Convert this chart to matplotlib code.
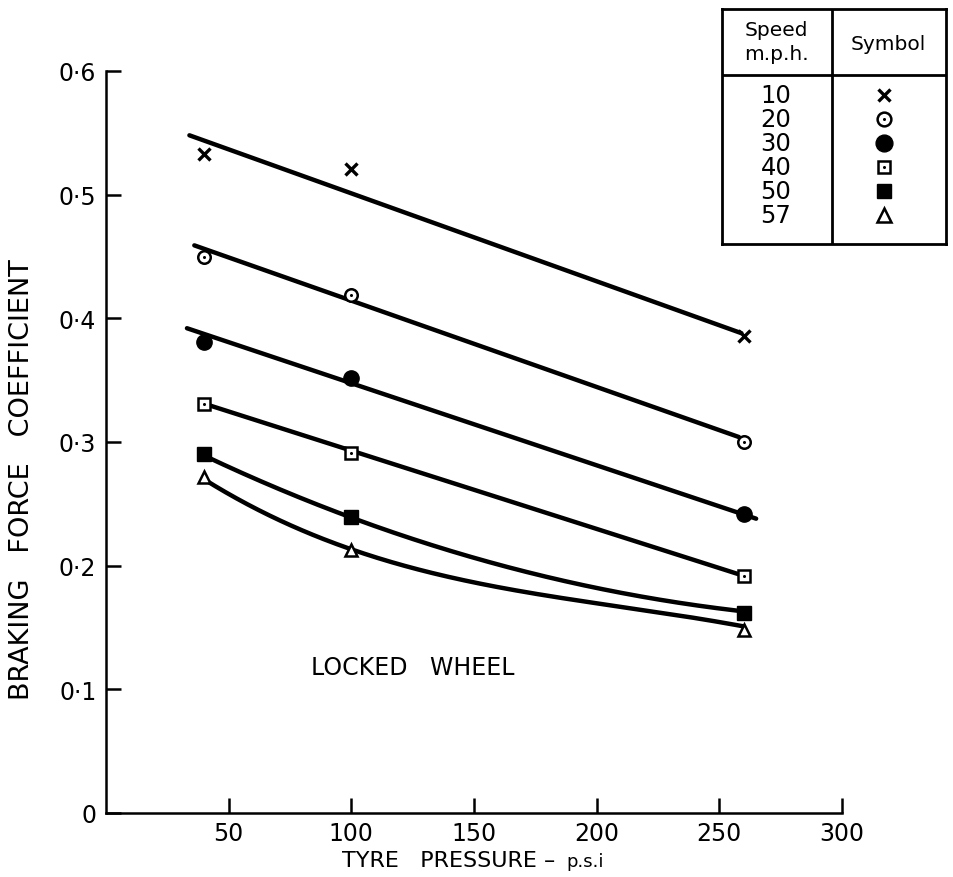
import numpy as np
import matplotlib
matplotlib.use("Agg")
import matplotlib.pyplot as plt

plt.rcParams['font.family'] = ['DejaVu Sans']

# Measured braking force coefficients (locked wheel) at each tyre pressure, p.s.i.
pressure = [40, 100, 260]
speeds = ["10", "20", "30", "40", "50", "57"]
mu_10 = [0.533, 0.521, 0.386]
mu_20 = [0.450, 0.419, 0.300]
mu_30 = [0.381, 0.352, 0.242]
mu_40 = [0.331, 0.291, 0.192]
mu_50 = [0.290, 0.239, 0.162]
mu_57 = [0.272, 0.213, 0.148]

# Faired curves drawn through each speed's results (pressure, coefficient)
curve_x_10 = [34, 259]
curve_y_10 = [0.548, 0.388]
curve_x_20 = [36, 258]
curve_y_20 = [0.459, 0.304]
curve_x_30 = [33, 265]
curve_y_30 = [0.392, 0.238]
curve_x_40 = [40, 258]
curve_y_40 = [0.331, 0.193]
curve_x_50 = [40, 100, 132, 200, 260]
curve_y_50 = [0.289, 0.239, 0.217, 0.182, 0.163]
curve_x_57 = [40, 100, 132, 200, 260]
curve_y_57 = [0.270, 0.212, 0.196, 0.169, 0.151]

x_ticks = [50, 100, 150, 200, 250, 300]
x_tick_labels = ["50", "100", "150", "200", "250", "300"]
y_ticks = [0, 0.1, 0.2, 0.3, 0.4, 0.5, 0.6]
y_tick_labels = ["0", "0·1", "0·2", "0·3", "0·4", "0·5", "0·6"]

measured = [mu_10, mu_20, mu_30, mu_40, mu_50, mu_57]
curves = [(curve_x_10, curve_y_10), (curve_x_20, curve_y_20),
          (curve_x_30, curve_y_30), (curve_x_40, curve_y_40),
          (curve_x_50, curve_y_50), (curve_x_57, curve_y_57)]

# Symbol used for each speed
styles = [
    dict(marker='x', ms=8, mew=2.4, mfc='none', dot=False),
    dict(marker='o', ms=9, mew=1.8, mfc='white', dot=True),
    dict(marker='o', ms=11, mew=1.0, mfc='black', dot=False),
    dict(marker='s', ms=8.5, mew=1.8, mfc='white', dot=True),
    dict(marker='s', ms=9.5, mew=1.0, mfc='black', dot=False),
    dict(marker='^', ms=9, mew=1.8, mfc='white', dot=False),
]

W, H = 954, 878
fig = plt.figure(figsize=(W / 100, H / 100), dpi=100)
ax = fig.add_axes([106 / W, 64 / H, 736 / W, 742 / H])


def draw_symbol(axis, x, y, st, z=4):
    axis.plot(x, y, linestyle='none', marker=st['marker'], ms=st['ms'],
              mew=st['mew'], mfc=st['mfc'], mec='black', zorder=z,
              clip_on=False)
    if st['dot']:
        axis.plot(x, y, linestyle='none', marker='o', ms=2.2, mew=0,
                  mfc='black', zorder=z + 1, clip_on=False)


for (cx, cy), vals, st in zip(curves, measured, styles):
    deg = min(3, len(cx) - 1)
    coef = np.polyfit(cx, cy, deg)
    xs = np.linspace(cx[0], cx[-1], 200)
    ax.plot(xs, np.polyval(coef, xs), color='black', lw=3.2,
            solid_capstyle='round', zorder=2)
    draw_symbol(ax, pressure, vals, st)

ax.set_xlim(0, 300)
ax.set_ylim(0, 0.6)
ax.set_xticks(x_ticks)
ax.set_xticklabels(x_tick_labels)
ax.set_yticks(y_ticks)
ax.set_yticklabels(y_tick_labels)
for s in ('top', 'right'):
    ax.spines[s].set_visible(False)
for s in ('left', 'bottom'):
    ax.spines[s].set_linewidth(1.8)
ax.tick_params(axis='both', direction='in', length=11, width=1.8,
               labelsize=17)
ax.tick_params(axis='x', pad=6)
ax.tick_params(axis='y', pad=7)

ax.text(125, 0.118, "LOCKED   WHEEL", fontsize=17, ha='center', va='center')

fig.text(22 / W, 1 - 480 / H, "BRAKING   FORCE   COEFFICIENT", rotation=90,
         fontsize=19.5, ha='center', va='center')
fig.text(555 / W, 1 - 867 / H, "TYRE   PRESSURE –", fontsize=16,
         ha='right', va='baseline')
fig.text(566 / W, 1 - 867 / H, "p.s.i", fontsize=13, ha='left',
         va='baseline')

# Key table
lax = fig.add_axes([722 / W, 1 - 245 / H, 224 / W, 235 / H])
lax.set_xlim(722, 946)
lax.set_ylim(245, 10)
lax.set_xticks([])
lax.set_yticks([])
for s in lax.spines.values():
    s.set_linewidth(2)
lax.axvline(832, color='black', lw=2)
lax.axhline(76, color='black', lw=2)
lax.text(776, 31, "Speed", fontsize=14.5, ha='center', va='center')
lax.text(776, 55, "m.p.h.", fontsize=14.5, ha='center', va='center')
lax.text(888, 45, "Symbol", fontsize=14.5, ha='center', va='center')
row_y = [96, 120, 144, 168, 192, 216]
for ry, sp, st in zip(row_y, speeds, styles):
    lax.text(776, ry, sp, fontsize=17.5, ha='center', va='center')
    big = dict(st)
    big['ms'] = st['ms'] * 1.1
    draw_symbol(lax, [884], [ry], big)

fig.savefig("out.png", dpi=100)
